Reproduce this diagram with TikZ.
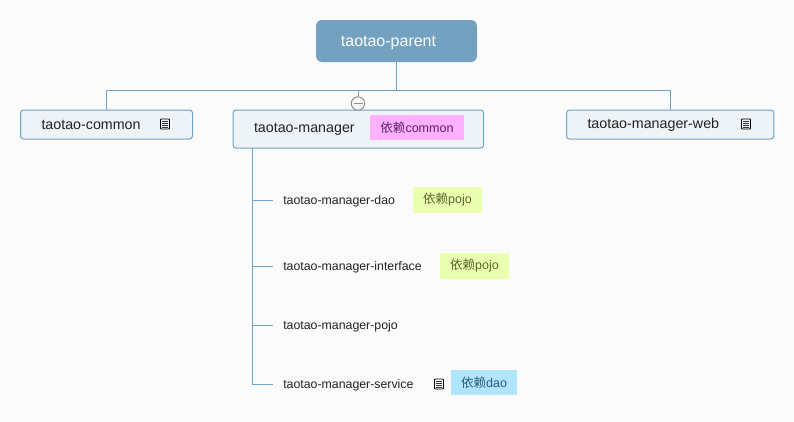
\documentclass[tikz,border=0pt]{standalone}
\usepackage{fontspec}
\setmainfont{Liberation Sans}
\newfontfamily\cjk{Noto Sans CJK SC}
\usetikzlibrary{positioning}
\definecolor{paper}{HTML}{FBFBFB}
\definecolor{wire}{HTML}{6FA3C7}
\definecolor{rootfill}{HTML}{73A1BF}
\definecolor{boxfill}{HTML}{EEF3F7}
\definecolor{inkmain}{HTML}{222222}
\definecolor{pinkfill}{HTML}{FFB0FF}
\definecolor{pinkink}{HTML}{5A1F6A}
\definecolor{limefill}{HTML}{EAFFB0}
\definecolor{limeink}{HTML}{556B2A}
\definecolor{skyfill}{HTML}{B0E5FF}
\definecolor{skyink}{HTML}{2F5A75}
\tikzset{
	noteicon/.pic={
			\draw [black, line width=0.7pt, rounded corners=0.6pt] (-4.5,-5) rectangle (4.5,5);
			\foreach \y in {-2.6,-0.8,1,2.8}
				\draw [black!80, line width=0.4pt] (-2.6,\y) -- (2.6,\y);
		}
}
\begin{document}
\begin{tikzpicture}[
x=0.75pt, y=-0.75pt,
   wire/.style = {draw=wire, line width=0.75pt},
   root/.style = {fill=rootfill, rounded corners=4.5pt, minimum width=120.75pt, minimum height=31.5pt,
                  inner sep=0pt, text=white, font=\fontsize{12}{14}\selectfont},
    box/.style = {draw=wire, fill=boxfill, line width=0.75pt, rounded corners=2.25pt, inner xsep=15.75pt, inner ysep=0pt,
                  text=inkmain, font=\fontsize{10.7}{12}\selectfont, align=left, anchor=west},
   leaf/.style = {inner sep=0pt, anchor=west, text=inkmain, font=\fontsize{9.25}{11}\selectfont},
    tag/.style = {inner sep=0pt, minimum height=19pt, font=\fontsize{9.4}{11}\selectfont}
                    ]
\useasboundingbox [fill=paper] (0,0) rectangle (794,422);

\node (parent) [root] at (396.5,41) {\hspace{-12pt}\smash{\raisebox{-4.2pt}{taotao-parent}}};

\node (common) [box, text width=97.5pt, minimum height=21.75pt] at (20,124.5) {taotao-common};
\node (manager) [box, text width=156.5pt, minimum height=28.5pt] at (232.5,129) {taotao-manager};
\node (web) [box, text width=124pt, minimum height=21.75pt] at (566,124.5) {taotao-manager-web};

\node (dao) [leaf] at (283,201.5) {taotao-manager-dao};
\node (interface) [leaf] at (283,267.5) {taotao-manager-interface};
\node (pojo) [leaf] at (283,326.5) {taotao-manager-pojo};
\node (service) [leaf] at (283,385.5) {taotao-manager-service};

\node (tagcommon) [tag, fill=pinkfill, text=pinkink, minimum width=70pt] at (417,127.5) {{\cjk 依赖}common};
\node (tagdao) [tag, fill=limefill, text=limeink, minimum width=52pt] at (447.5,200) {{\cjk 依赖}pojo};
\node (taginterface) [tag, fill=limefill, text=limeink, minimum width=52pt] at (474.5,266) {{\cjk 依赖}pojo};
\node (tagservice) [tag, fill=skyfill, text=skyink, minimum width=49.5pt, minimum height=18.75pt] at (484,382.5) {{\cjk 依赖}dao};

\coordinate (busleft) at (parent |- 0,90.5);
\coordinate (stem) at (358,90.5);
\coordinate (trunk) at (252.5,148);
\node (fold) [circle, draw=black!45, fill=paper, line width=0.75pt, minimum size=10pt, inner sep=0pt] at (358,103.5) {};

\draw [wire] (parent.south) -- (busleft);
\draw [wire] (common.north -| 106.5,0) |- (busleft);
\draw [wire] (web.north -| 670,0) |- (busleft);
\draw [wire] (stem) -- (fold.north);
\draw [black!45, line width=0.75pt] (353.5,103.5) -- (362.5,103.5);
\draw [wire] (trunk) |- (273,384);
\draw [wire] (252.5,200) -- (273,200);
\draw [wire] (252.5,266) -- (273,266);
\draw [wire] (252.5,325) -- (273,325);

\pic at (165,124) {noteicon};
\pic at (746,124) {noteicon};
\pic at (439,384) {noteicon};
\end{tikzpicture}
\end{document}
